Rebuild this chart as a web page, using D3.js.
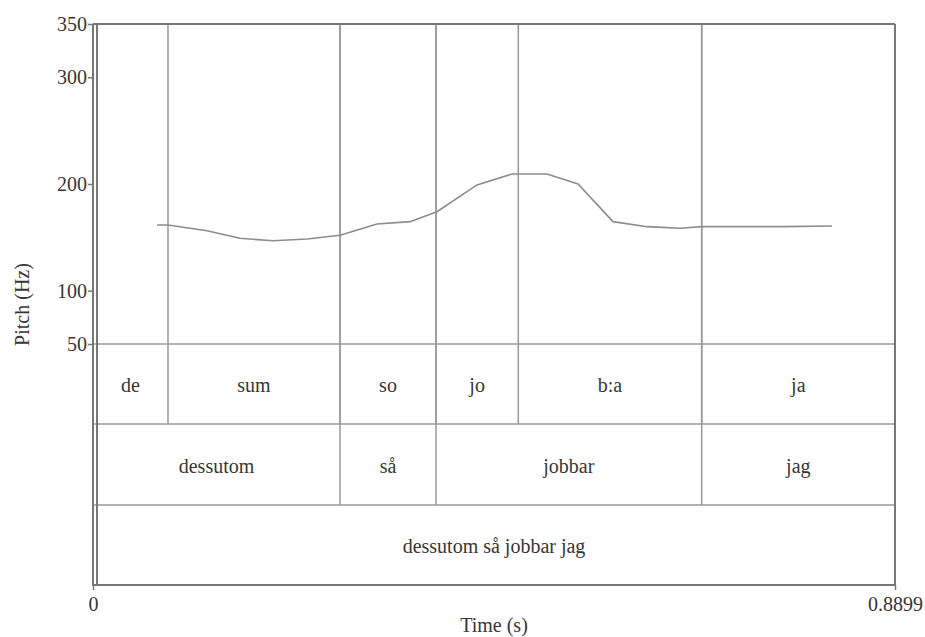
<!DOCTYPE html>
<html>
<head>
<meta charset="utf-8">
<script src="https://cdn.jsdelivr.net/npm/d3@7"></script>
<style>
  html, body { margin: 0; padding: 0; background: #fff; }
  svg { display: block; }
  svg text { font-family: "Liberation Serif", "Times New Roman", Times, serif; fill: #363636; }
</style>
</head>
<body>
<svg id="chart" width="925" height="637"></svg>
<script>
// Pitch track (time in seconds, pitch in Hz)
const pitchTimes  = [0.0710, 0.0832, 0.1265, 0.1631, 0.1997, 0.2375, 0.2741, 0.3151, 0.3517, 0.3817,
                     0.4261, 0.4649, 0.5038, 0.5382, 0.5770, 0.6148, 0.6513, 0.6757, 0.7290, 0.7656, 0.8200];
const pitchValues = [161.6, 161.6, 156.2, 149.1, 146.8, 148.4, 151.9, 162.5, 164.7, 174.0,
                     199.1, 209.4, 209.4, 200.0, 164.7, 160.0, 158.5, 160.0, 160.0, 160.0, 160.6];

// Axis ticks
const pitchTicks = [50, 100, 200, 300, 350];
const timeTicks = [0, 0.8899];

// Annotation tiers: labels and interval boundaries (s)
const syllableLabels = ["de", "sum", "so", "jo", "b:a", "ja"];
const syllableBounds = [0, 0.0832, 0.2741, 0.3806, 0.4719, 0.6754, 0.8899];
const wordLabels = ["dessutom", "så", "jobbar", "jag"];
const wordBounds = [0, 0.2741, 0.3806, 0.6754, 0.8899];
const phraseLabels = ["dessutom så jobbar jag"];
const phraseBounds = [0, 0.8899];

const svg = d3.select("#chart");

const left = 93, right = 895;
const pitchTop = 24, pitchBottom = 344;
const tierEdges = [344, 424, 505, 585];
const frameLeft = 97;
const fontSize = 20;
const serif = "'Liberation Serif', 'Times New Roman', Times, serif";

const x = d3.scaleLinear().domain([0, 0.8899]).range([left, right]);
const y = d3.scaleLinear().domain([50, 350]).range([pitchBottom, pitchTop]);

const frameColor = "#777";
const gridColor = "#999";

// Tier separators
tierEdges.slice(0, 3).forEach(ty => {
  svg.append("line")
    .attr("x1", left).attr("x2", right).attr("y1", ty).attr("y2", ty)
    .attr("stroke", gridColor).attr("stroke-width", 1.5);
});

// Interval boundaries, extending from the top of the pitch panel down through their tier
function drawTier(labels, bounds, tierIndex, extendToTop) {
  const yTop = tierEdges[tierIndex], yBot = tierEdges[tierIndex + 1];
  bounds.slice(1, -1).forEach(b => {
    svg.append("line")
      .attr("x1", x(b)).attr("x2", x(b))
      .attr("y1", extendToTop ? pitchTop : yTop).attr("y2", yBot)
      .attr("stroke", gridColor).attr("stroke-width", 1.5);
  });
  labels.forEach((lab, i) => {
    svg.append("text")
      .attr("x", (x(bounds[i]) + x(bounds[i + 1])) / 2)
      .attr("y", (yTop + yBot) / 2)
      .attr("dy", "0.4em")
      .attr("text-anchor", "middle")
      .attr("font-size", fontSize)
      .attr("font-family", serif)
      .text(lab);
  });
}
drawTier(syllableLabels, syllableBounds, 0, true);
drawTier(wordLabels, wordBounds, 1, true);
drawTier(phraseLabels, phraseBounds, 2, false);

// Pitch contour
const line = d3.line()
  .x((d, i) => x(pitchTimes[i]))
  .y(d => y(d));
svg.append("path")
  .datum(pitchValues)
  .attr("d", line)
  .attr("fill", "none")
  .attr("stroke", "#8c8c8c")
  .attr("stroke-width", 1.6);

// Frame
svg.append("line").attr("x1", frameLeft).attr("x2", frameLeft).attr("y1", pitchTop).attr("y2", tierEdges[3])
  .attr("stroke", frameColor).attr("stroke-width", 2);
svg.append("line").attr("x1", right).attr("x2", right).attr("y1", pitchTop).attr("y2", tierEdges[3])
  .attr("stroke", frameColor).attr("stroke-width", 2);
svg.append("line").attr("x1", left).attr("x2", right).attr("y1", pitchTop).attr("y2", pitchTop)
  .attr("stroke", frameColor).attr("stroke-width", 2);

// Y axis (pitch)
const yAxis = d3.axisLeft(y).tickValues(pitchTicks).tickSize(5).tickPadding(1).tickFormat(d3.format("d"));
const gy = svg.append("g").attr("transform", `translate(${left},0)`).call(yAxis)
  .attr("font-family", serif).attr("font-size", fontSize);
gy.select(".domain").remove();
gy.append("line").attr("x1", 0).attr("x2", 0).attr("y1", pitchTop).attr("y2", tierEdges[3] + 1)
  .attr("stroke", frameColor).attr("stroke-width", 2);
gy.selectAll(".tick line").attr("stroke", frameColor).attr("stroke-width", 1.5);

// X axis (time)
const xAxis = d3.axisBottom(x).tickValues(timeTicks).tickSize(5).tickPadding(7)
  .tickFormat(d => d === 0 ? "0" : d3.format(".4f")(d));
const gx = svg.append("g").attr("transform", `translate(0,${tierEdges[3]})`).call(xAxis)
  .attr("font-family", serif).attr("font-size", fontSize);
gx.select(".domain").remove();
gx.append("line").attr("x1", left).attr("x2", right).attr("y1", 0).attr("y2", 0)
  .attr("stroke", frameColor).attr("stroke-width", 2);
gx.selectAll(".tick line").attr("stroke", frameColor).attr("stroke-width", 1.5);

// Axis titles
svg.append("text")
  .attr("transform", `translate(22,${(pitchTop + tierEdges[3]) / 2}) rotate(-90)`)
  .attr("text-anchor", "middle").attr("dy", "0.35em")
  .attr("font-size", fontSize).attr("font-family", serif)
  .text("Pitch (Hz)");
svg.append("text")
  .attr("x", (left + right) / 2).attr("y", 632)
  .attr("text-anchor", "middle")
  .attr("font-size", fontSize).attr("font-family", serif)
  .text("Time (s)");
</script>
</body>
</html>
